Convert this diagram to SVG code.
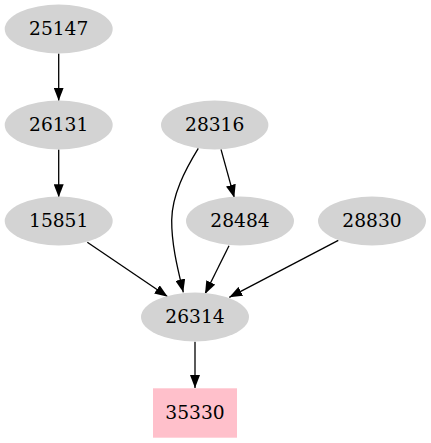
<svg xmlns="http://www.w3.org/2000/svg" width="431" height="443" viewBox="0 0 431 443">
<style>
.n ellipse{fill:#d3d3d3;stroke:none}
.n text{font-family:"DejaVu Serif",serif;font-size:18.67px;text-anchor:middle;fill:#000}
.e path{fill:none;stroke:#000;stroke-width:1.3}
</style>
<defs>
<marker id="a" markerWidth="14" markerHeight="10" refX="13" refY="5" orient="auto" markerUnits="userSpaceOnUse">
<path d="M0,0 L13,5 L0,10 Z" fill="#000"/>
</marker>
</defs>
<rect width="431" height="443" fill="#fff"/>
<g id="edges" class="e">
<path d="M58.7,53.5 L58.7,100.7" marker-end="url(#a)"/>
<path d="M58.7,149.5 L58.7,197.3" marker-end="url(#a)"/>
<path d="M198.3,148.3 C185,170 172,195 171.7,220 C171.5,245 178,270 183.3,292.3" marker-end="url(#a)"/>
<path d="M221,149.3 L234.3,197.7" marker-end="url(#a)"/>
<path d="M87.3,242.3 L167.7,296.7" marker-end="url(#a)"/>
<path d="M229,245.7 L205,294" marker-end="url(#a)"/>
<path d="M338.3,240.3 L229.3,297.3" marker-end="url(#a)"/>
<path d="M195,341.7 L195,388" marker-end="url(#a)"/>
</g>
<g id="n25147" class="n"><ellipse cx="58.7" cy="29" rx="54" ry="24.4"/><text x="58.7" y="34.7">25147</text></g>
<g id="n26131" class="n"><ellipse cx="58.7" cy="125" rx="54" ry="24.4"/><text x="58.7" y="130.7">26131</text></g>
<g id="n15851" class="n"><ellipse cx="58.7" cy="221" rx="54" ry="24.4"/><text x="58.7" y="226.7">15851</text></g>
<g id="n28316" class="n"><ellipse cx="214.7" cy="125" rx="53.7" ry="24.4"/><text x="214.7" y="130.7">28316</text></g>
<g id="n28484" class="n"><ellipse cx="240" cy="221" rx="54" ry="24.4"/><text x="240" y="226.7">28484</text></g>
<g id="n28830" class="n"><ellipse cx="372" cy="221" rx="54" ry="24.4"/><text x="372" y="226.7">28830</text></g>
<g id="n26314" class="n"><ellipse cx="195" cy="317" rx="54" ry="24.4"/><text x="195" y="322.7">26314</text></g>
<g id="n35330" class="n"><rect x="153" y="388.3" width="84" height="49.4" fill="#ffc0cb"/><text x="195" y="418.7">35330</text></g>
</svg>
